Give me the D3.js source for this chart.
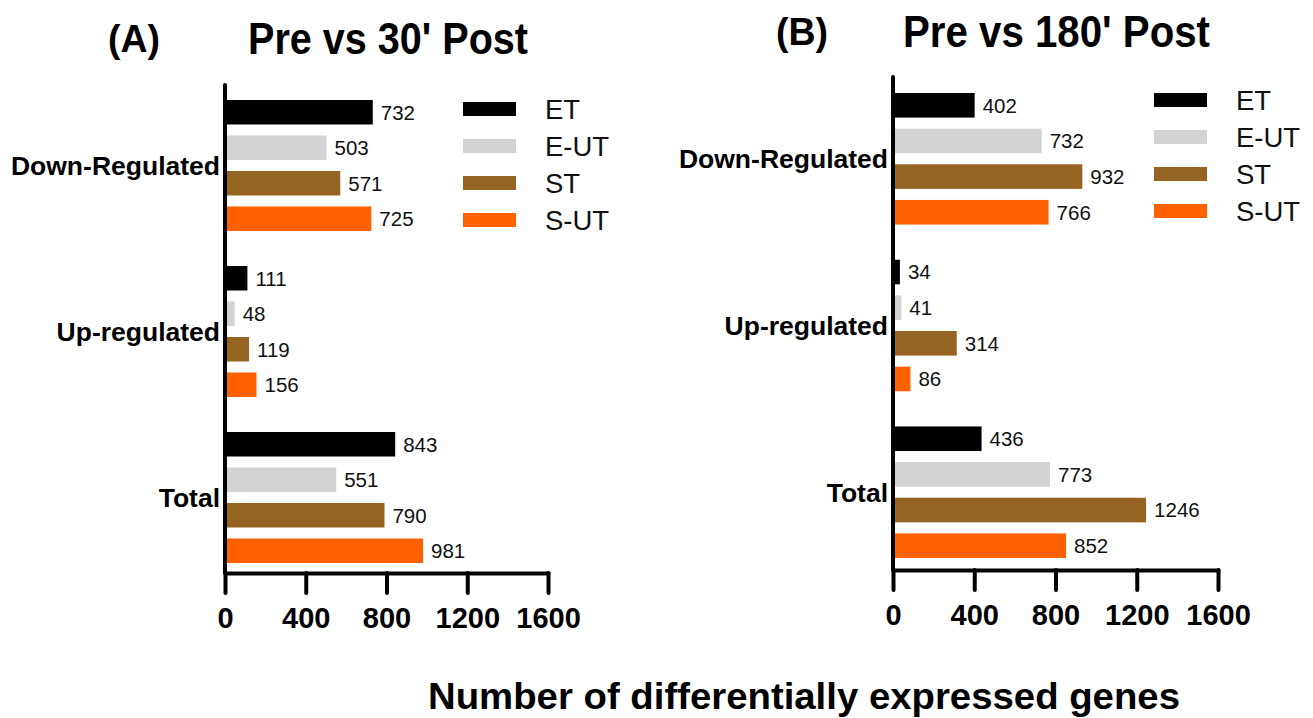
<!DOCTYPE html>
<html>
<head>
<meta charset="utf-8">
<script src="https://cdn.jsdelivr.net/npm/d3@7"></script>
<style>
  body { margin: 0; background: #fff; }
  svg text { font-family: "Liberation Sans", Arial, sans-serif; }
</style>
</head>
<body>
<svg id="chart" width="1313" height="718"></svg>
<script>
'use strict';

// data
const categories = ['Down-Regulated', 'Up-regulated', 'Total'];
const seriesNames = ['ET', 'E-UT', 'ST', 'S-UT'];
const seriesColors = ['#000000', '#d3d3d3', '#956322', '#ff6100'];

const et30 = [732, 111, 843];
const eut30 = [503, 48, 551];
const st30 = [571, 119, 790];
const sut30 = [725, 156, 981];

const et180 = [402, 34, 436];
const eut180 = [732, 41, 773];
const st180 = [932, 314, 1246];
const sut180 = [766, 86, 852];

const xTicks = [0, 400, 800, 1200, 1600];

const svg = d3.select('#chart');

/**
 * draw one panel of grouped horizontal bars
 */
function drawPanel(opts, values) {
  const g = svg.append('g');

  const x = d3.scaleLinear()
      .domain([0, 1600])
      .range([opts.x0, opts.x1]);
  const y0 = d3.scaleBand()
      .domain(categories)
      .range([opts.bandTop, opts.bandBottom])
      .paddingInner(0.211);
  const y1 = d3.scaleBand()
      .domain(seriesNames)
      .range([0, y0.bandwidth()])
      .paddingInner(0.31);

  const rows = [];
  categories.forEach((c, ci) => {
    seriesNames.forEach((s, si) => {
      rows.push({cat: c, name: s, color: seriesColors[si], value: values[si][ci]});
    });
  });

  g.selectAll('rect.bar')
      .data(rows)
      .enter().append('rect')
      .attr('class', 'bar')
      .attr('x', x(0))
      .attr('y', (d) => y0(d.cat) + y1(d.name))
      .attr('width', (d) => x(d.value) - x(0))
      .attr('height', y1.bandwidth())
      .attr('fill', (d) => d.color);

  g.selectAll('text.value')
      .data(rows)
      .enter().append('text')
      .attr('class', 'value')
      .attr('x', (d) => x(d.value) + 8)
      .attr('y', (d) => y0(d.cat) + y1(d.name) + y1.bandwidth() / 2)
      .attr('dy', '0.36em')
      .style('font-size', '20.5px')
      .attr('fill', '#111')
      .text((d) => d.value);

  // vertical axis line
  g.append('line')
      .attr('x1', x(0))
      .attr('x2', x(0))
      .attr('y1', opts.axisTop)
      .attr('y2', opts.axisY)
      .attr('stroke', '#000')
      .attr('stroke-width', 4)
      .attr('stroke-linecap', 'round');

  // category labels
  const yAxis = g.append('g')
      .attr('transform', 'translate(' + (x(0) - 4) + ',0)')
      .call(d3.axisLeft(y0).tickSize(0).tickPadding(1));
  yAxis.select('.domain').remove();
  yAxis.selectAll('text')
      .attr('dy', '0.36em')
      .style('font-size', '26.5px')
      .style('font-weight', 'bold')
      .attr('fill', '#000');

  // bottom axis
  const xAxis = g.append('g')
      .attr('transform', 'translate(0,' + opts.axisY + ')')
      .call(d3.axisBottom(x)
          .tickValues(xTicks)
          .tickSize(20)
          .tickSizeOuter(0)
          .tickPadding(14)
          .tickFormat(d3.format('d')));
  xAxis.select('.domain')
      .attr('stroke', '#000')
      .attr('stroke-width', 4)
      .attr('stroke-linecap', 'round');
  xAxis.selectAll('.tick line')
      .attr('stroke', '#000')
      .attr('stroke-width', 4)
      .attr('stroke-linecap', 'round');
  xAxis.selectAll('.tick text')
      .attr('fill', '#000')
      .style('font-size', '29px')
      .style('font-weight', 'bold');

  // legend
  const legend = g.selectAll('g.legend')
      .data(seriesNames)
      .enter().append('g')
      .attr('class', 'legend')
      .attr('transform', (d, i) => 'translate(' + opts.legendX + ',' + (opts.legendY + i * 37) + ')');
  legend.append('rect')
      .attr('x', 0)
      .attr('y', -7)
      .attr('width', 53)
      .attr('height', 14)
      .attr('fill', (d, i) => seriesColors[i]);
  legend.append('text')
      .attr('x', 82)
      .attr('dy', '0.36em')
      .style('font-size', '27.5px')
      .attr('fill', '#111')
      .text((d) => d);

  // panel letter and title
  g.append('text')
      .attr('x', opts.letterX)
      .attr('y', opts.titleY - 2)
      .style('font-size', '38px')
      .style('font-weight', 'bold')
      .attr('textLength', 52)
      .attr('lengthAdjust', 'spacingAndGlyphs')
      .text(opts.letter);
  g.append('text')
      .attr('x', opts.titleX)
      .attr('y', opts.titleY)
      .style('font-size', '44px')
      .style('font-weight', 'bold')
      .attr('textLength', opts.titleW)
      .attr('lengthAdjust', 'spacingAndGlyphs')
      .text(opts.title);
}

drawPanel({
  x0: 225, x1: 548, bandTop: 100, bandBottom: 563, axisTop: 85, axisY: 573,
  legendX: 463, legendY: 109,
  letter: '(A)', letterX: 108, title: 'Pre vs 30\' Post', titleX: 248, titleW: 280, titleY: 54
}, [et30, eut30, st30, sut30]);

drawPanel({
  x0: 893, x1: 1218, bandTop: 93, bandBottom: 558, axisTop: 77, axisY: 570,
  legendX: 1154, legendY: 100,
  letter: '(B)', letterX: 776, title: 'Pre vs 180\' Post', titleX: 903, titleW: 307, titleY: 47
}, [et180, eut180, st180, sut180]);

svg.append('text')
    .attr('x', 428)
    .attr('y', 709)
    .style('font-size', '37px')
    .style('font-weight', 'bold')
    .attr('textLength', 752)
    .attr('lengthAdjust', 'spacingAndGlyphs')
    .text('Number of differentially expressed genes');
</script>
</body>
</html>
